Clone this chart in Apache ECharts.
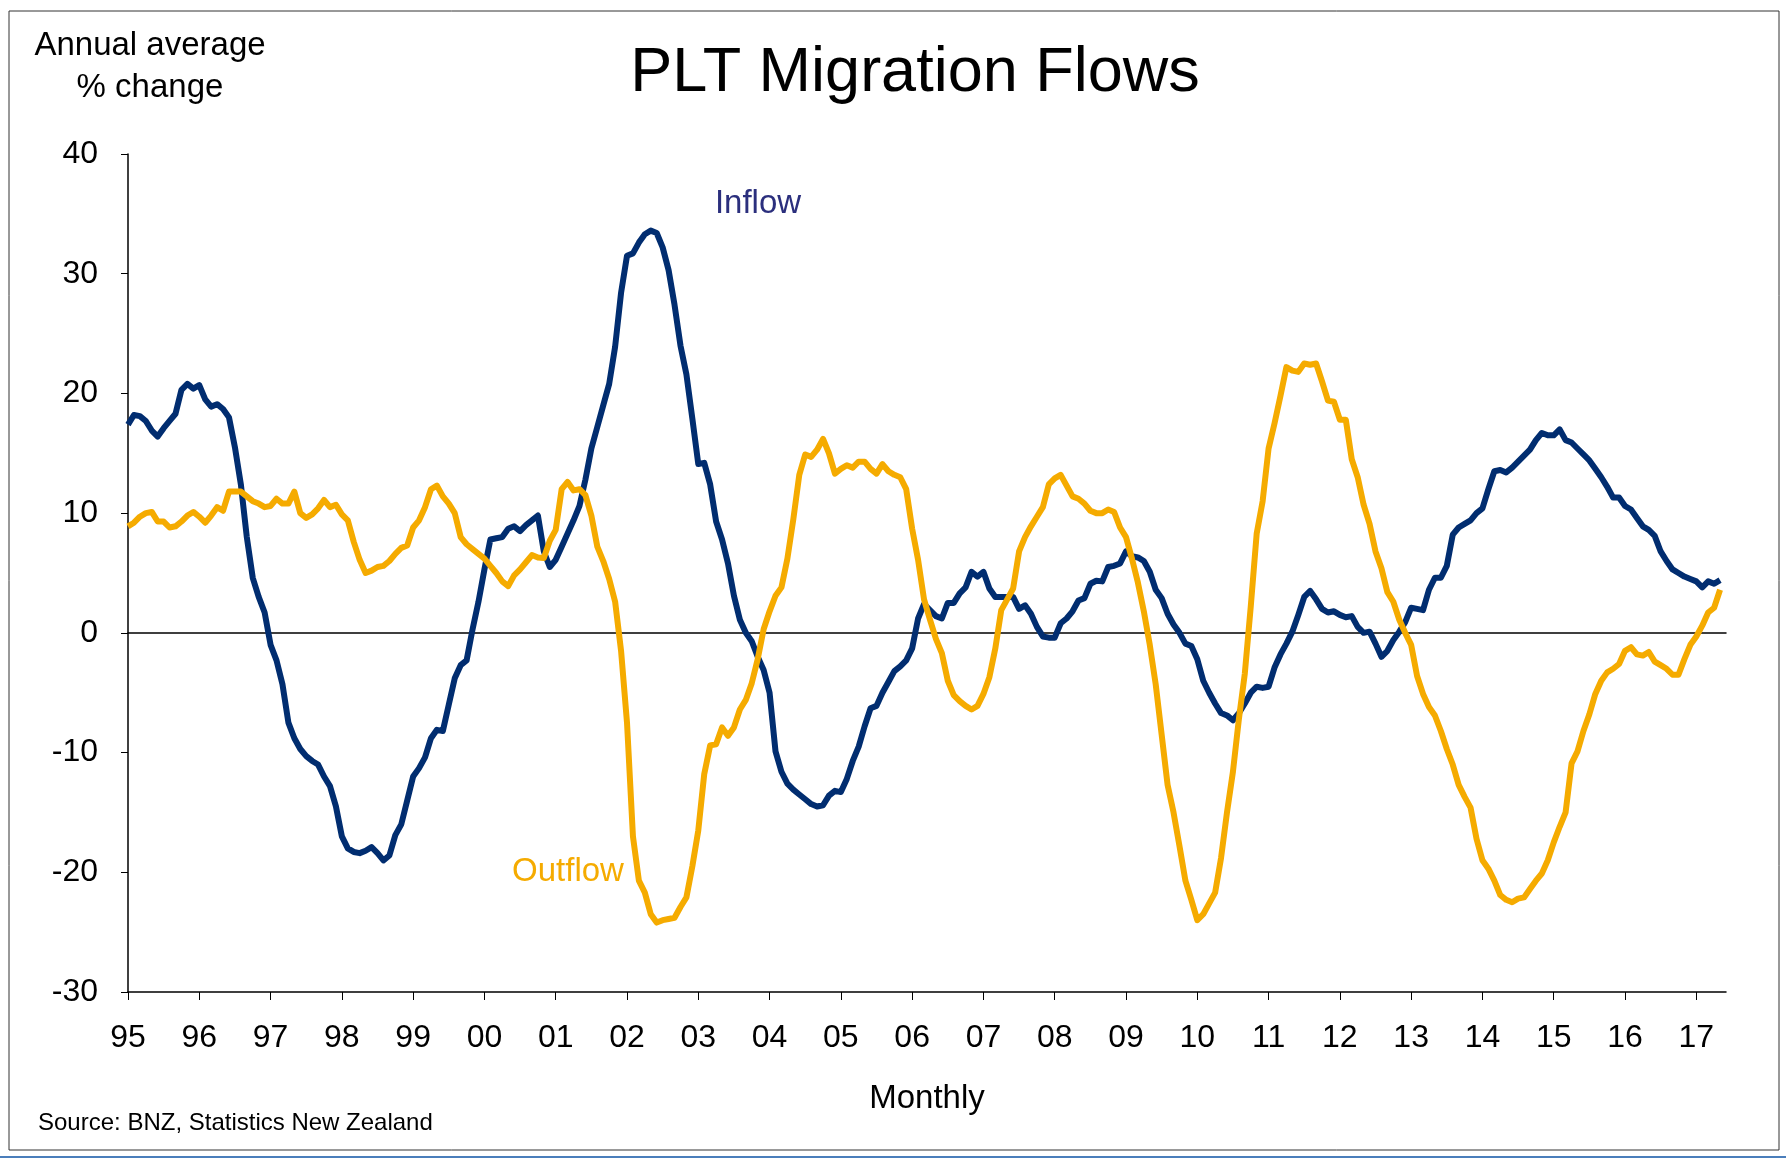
<!DOCTYPE html>
<html>
<head>
<meta charset="utf-8">
<title>PLT Migration Flows</title>
<script src="https://cdn.jsdelivr.net/npm/echarts@6/dist/echarts.min.js"></script>
<style>
  html, body { margin: 0; padding: 0; background: #fff; }
  #main { width: 1786px; height: 1160px; }
</style>
</head>
<body>
<div id="main"></div>
<script>
// year tick labels, one per January
var yearLabels = ['95','96','97','98','99','00','01','02','03','04','05','06',
                  '07','08','09','10','11','12','13','14','15','16','17'];

// monthly, Jan 1995 .. May 2017 (annual average % change)
var inflow = [
  17.4, 18.2, 18.1, 17.7, 16.9, 16.4, 17.1, 17.7, 18.3, 20.3, 20.8, 20.4,
  20.7, 19.5, 18.9, 19.1, 18.7, 18.0, 15.5, 12.4, 8.0, 4.6, 3.0, 1.7,
  -1.0, -2.3, -4.3, -7.5, -8.8, -9.7, -10.3, -10.7, -11.0, -12.0, -12.8, -14.5,
  -17.0, -18.0, -18.3, -18.4, -18.2, -17.9, -18.4, -19.0, -18.6, -16.9, -16.0, -14.0,
  -12.0, -11.3, -10.4, -8.8, -8.1, -8.2, -6.0, -3.8, -2.7, -2.3, 0.3, 2.6,
  5.3, 7.8, 7.9, 8.0, 8.7, 8.9, 8.5, 9.0, 9.4, 9.8, 6.8, 5.5,
  6.1, 7.2, 8.3, 9.4, 10.6, 12.8, 15.4, 17.2, 19.0, 20.8, 23.9, 28.4,
  31.5, 31.7, 32.6, 33.3, 33.6, 33.4, 32.2, 30.3, 27.4, 24.0, 21.6, 17.9,
  14.1, 14.2, 12.4, 9.3, 7.8, 5.8, 3.1, 1.1, 0.0, -0.7, -2.0, -3.1,
  -5.0, -9.9, -11.6, -12.6, -13.1, -13.5, -13.9, -14.3, -14.5, -14.4, -13.6, -13.2,
  -13.3, -12.2, -10.7, -9.5, -7.8, -6.3, -6.1, -5.0, -4.1, -3.2, -2.8, -2.3,
  -1.3, 1.2, 2.4, 1.9, 1.4, 1.2, 2.5, 2.5, 3.3, 3.8, 5.1, 4.7,
  5.1, 3.7, 3.0, 3.0, 3.0, 3.0, 2.0, 2.3, 1.6, 0.5, -0.3, -0.4,
  -0.4, 0.8, 1.2, 1.8, 2.7, 2.9, 4.1, 4.35, 4.3, 5.5, 5.6, 5.8,
  6.8, 6.4, 6.3, 6.0, 5.1, 3.6, 2.9, 1.6, 0.7, 0.0, -0.9, -1.1,
  -2.2, -4.0, -5.0, -5.9, -6.7, -6.9, -7.3, -6.7, -5.9, -5.0, -4.5, -4.6,
  -4.5, -2.9, -1.8, -0.9, 0.1, 1.5, 3.0, 3.5, 2.8, 2.0, 1.7, 1.8,
  1.5, 1.3, 1.4, 0.5, 0.0, 0.1, -0.9, -2.0, -1.5, -0.6, 0.1, 0.9,
  2.1, 2.0, 1.9, 3.6, 4.6, 4.6, 5.6, 8.2, 8.8, 9.1, 9.4, 10.0,
  10.4, 12.0, 13.5, 13.6, 13.4, 13.8, 14.3, 14.8, 15.3, 16.1, 16.7, 16.5,
  16.5, 17.0, 16.1, 15.9, 15.4, 14.9, 14.4, 13.7, 13.0, 12.2, 11.3, 11.3,
  10.6, 10.3, 9.6, 8.9, 8.6, 8.1, 6.8, 6.0, 5.3, 5.0, 4.7, 4.5,
  4.3, 3.8, 4.3, 4.1, 4.4
];

var outflow = [
  8.9, 9.2, 9.7, 10.0, 10.1, 9.3, 9.3, 8.8, 8.9, 9.3, 9.8, 10.1,
  9.7, 9.2, 9.8, 10.5, 10.2, 11.8, 11.8, 11.8, 11.4, 11.0, 10.8, 10.5,
  10.6, 11.2, 10.8, 10.8, 11.8, 10.0, 9.6, 9.9, 10.4, 11.1, 10.5, 10.7,
  9.9, 9.4, 7.6, 6.1, 5.0, 5.2, 5.5, 5.6, 6.0, 6.6, 7.1, 7.3,
  8.8, 9.4, 10.5, 12.0, 12.3, 11.4, 10.8, 10.0, 8.0, 7.4, 7.0, 6.6,
  6.2, 5.6, 5.0, 4.3, 3.9, 4.8, 5.3, 5.9, 6.5, 6.3, 6.25, 7.7,
  8.6, 12.0, 12.6, 11.9, 12.0, 11.5, 9.8, 7.2, 6.0, 4.5, 2.6, -1.5,
  -7.5, -17.0, -20.7, -21.7, -23.5, -24.2, -24.0, -23.9, -23.8, -22.9, -22.1, -19.5,
  -16.5, -11.8, -9.4, -9.3, -7.9, -8.6, -7.9, -6.4, -5.6, -4.2, -2.2, 0.3,
  1.8, 3.1, 3.8, 6.2, 9.5, 13.2, 14.9, 14.7, 15.3, 16.2, 15.0, 13.3,
  13.7, 14.0, 13.8, 14.3, 14.3, 13.7, 13.3, 14.1, 13.5, 13.2, 13.0, 12.0,
  8.7, 6.1, 2.8, 1.1, -0.5, -1.7, -4.0, -5.2, -5.7, -6.1, -6.4, -6.1,
  -5.1, -3.7, -1.3, 1.9, 2.8, 3.7, 6.8, 8.0, 8.9, 9.7, 10.5, 12.4,
  12.9, 13.2, 12.3, 11.4, 11.2, 10.8, 10.2, 10.0, 10.0, 10.3, 10.1, 8.8,
  8.0, 6.2, 4.2, 1.8, -1.0, -4.3, -8.5, -12.7, -15.0, -17.8, -20.7, -22.3,
  -24.0, -23.5, -22.6, -21.7, -18.8, -15.0, -11.6, -7.2, -3.4, 2.2, 8.3, 11.0,
  15.4, 17.5, 19.8, 22.2, 21.9, 21.8, 22.5, 22.4, 22.5, 21.0, 19.4, 19.3,
  17.8, 17.8, 14.5, 13.0, 10.7, 9.1, 6.8, 5.4, 3.4, 2.6, 1.1, 0.0,
  -1.0, -3.6, -5.1, -6.2, -6.9, -8.2, -9.7, -11.0, -12.7, -13.7, -14.6, -17.2,
  -19.0, -19.7, -20.7, -21.9, -22.3, -22.5, -22.2, -22.1, -21.4, -20.7, -20.1, -19.0,
  -17.5, -16.2, -15.0, -10.9, -9.9, -8.2, -6.8, -5.1, -4.0, -3.3, -3.0, -2.6,
  -1.5, -1.2, -1.8, -1.9, -1.6, -2.4, -2.7, -3.0, -3.5, -3.5, -2.2, -1.0,
  -0.3, 0.6, 1.7, 2.1, 3.6
];

// month categories Jan 95 .. Jun 17 (axis runs one month past the data)
var months = [];
yearLabels.forEach(function (y) {
  for (var i = 1; i <= 12; i++) months.push(y + '-' + (i < 10 ? '0' + i : i));
});
months = months.slice(0, 270);

var FONT = '"Liberation Sans", Arial, sans-serif';
var onYear = function (idx) { return idx % 12 === 0; };

var chart = echarts.init(document.getElementById('main'));
chart.setOption({
  animation: false,
  backgroundColor: '#fff',
  grid: { left: 128, right: 60, top: 154, bottom: 168 },
  xAxis: [
    {
      type: 'category',
      data: months,
      boundaryGap: false,
      name: 'Monthly',
      nameLocation: 'middle',
      nameGap: 90,
      nameTextStyle: { fontFamily: FONT, fontSize: 33, color: '#000' },
      axisLine: { onZero: false, lineStyle: { color: '#000', width: 1.5 } },
      axisTick: { interval: onYear, length: 8, lineStyle: { color: '#000' } },
      axisLabel: {
        interval: onYear,
        margin: 30,
        fontFamily: FONT, fontSize: 32, color: '#000',
        formatter: function (v) { return v.slice(0, 2); }
      },
      splitLine: { show: false }
    },
    {
      // zero line
      type: 'category',
      data: months,
      boundaryGap: false,
      axisLine: { onZero: true, lineStyle: { color: '#000', width: 1.5 } },
      axisTick: { show: false },
      axisLabel: { show: false },
      splitLine: { show: false }
    }
  ],
  yAxis: {
    type: 'value',
    min: -30, max: 40, interval: 10,
    axisLine: { show: true, lineStyle: { color: '#000', width: 1.5 } },
    axisTick: { show: true, length: 7, lineStyle: { color: '#000' } },
    axisLabel: { margin: 30, fontFamily: FONT, fontSize: 32, color: '#000' },
    splitLine: { show: false }
  },
  series: [
    {
      name: 'Inflow', type: 'line', data: inflow,
      showSymbol: false, symbol: 'none',
      lineStyle: { color: '#012d70', width: 6, join: 'round' },
      itemStyle: { color: '#012d70' }
    },
    {
      name: 'Outflow', type: 'line', data: outflow,
      showSymbol: false, symbol: 'none',
      lineStyle: { color: '#f5ab00', width: 6, join: 'round' },
      itemStyle: { color: '#f5ab00' }
    }
  ],
  graphic: [
    { type: 'rect', silent: true, z: -1,
      shape: { x: 9, y: 11, width: 1770, height: 1139 },
      style: { fill: 'none', stroke: '#333', lineWidth: 1 } },
    { type: 'line', silent: true,
      shape: { x1: 0, y1: 1157, x2: 1786, y2: 1157 },
      style: { stroke: '#4a7ebb', lineWidth: 2 } },
    { type: 'text', x: 915, y: 74,
      style: { text: 'PLT Migration Flows', font: '63px ' + FONT, fill: '#000',
               textAlign: 'center', textVerticalAlign: 'middle' } },
    { type: 'text', x: 150, y: 46,
      style: { text: 'Annual average', font: '33px ' + FONT, fill: '#000',
               textAlign: 'center', textVerticalAlign: 'middle' } },
    { type: 'text', x: 150, y: 88,
      style: { text: '% change', font: '33px ' + FONT, fill: '#000',
               textAlign: 'center', textVerticalAlign: 'middle' } },
    { type: 'text', x: 758, y: 204,
      style: { text: 'Inflow', font: '33px ' + FONT, fill: '#2b2f7d',
               textAlign: 'center', textVerticalAlign: 'middle' } },
    { type: 'text', x: 568, y: 872,
      style: { text: 'Outflow', font: '33px ' + FONT, fill: '#f5ab00',
               textAlign: 'center', textVerticalAlign: 'middle' } },
    { type: 'text', x: 38, y: 1123,
      style: { text: 'Source: BNZ, Statistics New Zealand', font: '24px ' + FONT, fill: '#000',
               textAlign: 'left', textVerticalAlign: 'middle' } }
  ]
});
</script>
</body>
</html>
